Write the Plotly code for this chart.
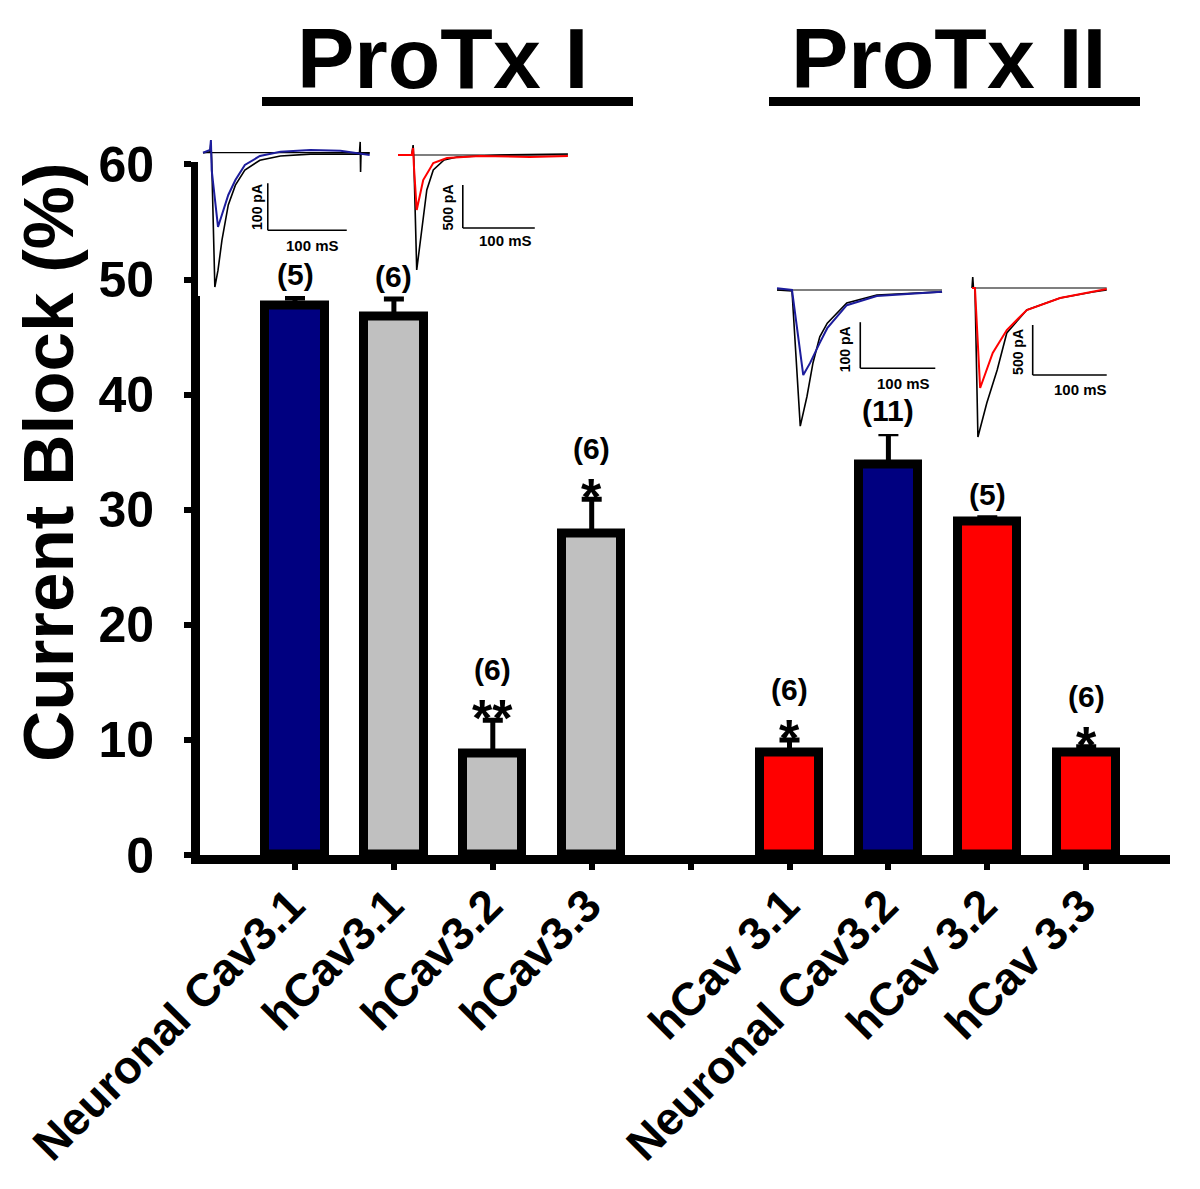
import plotly.graph_objects as go

W, H = 1192, 1181          # figure size (page body adds an 8 px margin)
OFF = 8
FONT = "Liberation Sans, Arial, sans-serif"

# ---------------- main bar chart data ----------------
categories = ["Neuronal Cav3.1", "hCav3.1", "hCav3.2", "hCav3.3", " ",
              "hCav 3.1", "Neuronal Cav3.2", "hCav 3.2", "hCav 3.3"]
block_pct = [47.7, 46.8, 8.8, 27.9, None, 8.9, 33.9, 29.0, 8.9]
err_top = [48.4, 48.3, 11.7, 30.9, None, 10.0, 36.6, 29.3, 9.4]
n_labels = ["(5)", "(6)", "(6)", "(6)", "", "(6)", "(11)", "(5)", "(6)"]
sig_labels = ["", "", "**", "*", "", "*", "", "", "*"]
bar_colors = ["#000080", "#C0C0C0", "#C0C0C0", "#C0C0C0", "rgba(0,0,0,0)",
              "#FF0000", "#000080", "#FF0000", "#FF0000"]
y_ticks = [0, 10, 20, 30, 40, 50, 60]
group_titles = ["ProTx I", "ProTx II"]

# ---------------- inset current traces (time ms, current pA) ----------------
# Inset 1: ProTx I on neuronal Cav3.1 (control black, toxin blue)
i1_ctrl_t = [0, 9, 10, 11, 15, 19, 24, 32, 41, 53, 72, 98, 136, 198, 199, 199.5, 200, 211]
i1_ctrl_i = [0, 2, 21, -16, -286, -250, -186, -111, -69, -37, -16, -7, -3, -3, 23, -41, -3, -1]
i1_tox_t = [0, 9, 10, 11, 19, 24, 32, 41, 53, 72, 98, 136, 174, 211]
i1_tox_i = [0, 6, 27, -37, -158, -132, -90, -58, -26, -7, 2, 6, 4, -5]
# Inset 2: ProTx I on hCav3.1 (control black, toxin red)
i2_ctrl_t = [0, 19, 21, 22, 26, 33, 40, 49, 64, 82, 142, 236]
i2_ctrl_i = [0, 0, 116, -58, -1337, -872, -407, -174, -58, -23, 0, 12]
i2_tox_t = [0, 19, 21, 22, 26, 35, 49, 68, 114, 183, 236]
i2_tox_i = [0, 0, 81, -116, -640, -291, -93, -35, -12, -23, -12]
# Inset 3: ProTx II on neuronal Cav3.2 (control black, toxin blue)
i3_ctrl_t = [0, 20, 31, 40, 48, 57, 67, 93, 133, 220]
i3_ctrl_i = [0, -2, -296, -231, -158, -102, -72, -28, -11, -4]
i3_tox_t = [0, 20, 35, 44, 57, 67, 93, 133, 220]
i3_tox_i = [4, 0, -185, -159, -115, -83, -33, -13, -4]
# Inset 4: ProTx II on hCav3.2 (control black, toxin red)
i4_ctrl_t = [0, 1, 2, 4, 8, 20, 34, 47, 74, 119, 163, 182]
i4_ctrl_i = [0, 110, 0, 0, -1490, -1150, -820, -450, -220, -100, -40, -20]
i4_tox_t = [0, 4, 11, 28, 47, 74, 119, 163, 182]
i4_tox_i = [0, 0, -1000, -650, -420, -220, -100, -40, -10]

scale_ms = [100, 100, 100, 100]
scale_pA = [100, 500, 100, 500]

# ---------------- layout helpers (page pixel -> paper fraction) ----------------
def px_x(p):
    return (p - OFF) / W

def px_y(p):
    return 1 - (p - OFF) / H

fig = go.Figure()

# bars
fig.add_trace(go.Bar(
    x=categories, y=block_pct, width=0.6,
    marker=dict(color=bar_colors, line=dict(color="black", width=9)),
    error_y=dict(type="data", symmetric=False,
                 array=[(e - v) if v is not None else None for e, v in zip(err_top, block_pct)],
                 arrayminus=[0] * len(categories),
                 color="black", thickness=5, width=10),
    showlegend=False, xaxis="x", yaxis="y",
))

# main axes geometry
y0_px, unit_px = 855.0, 11.51
ytop_val = 60.25
x_first_px, step_px = 295.0, 98.9
xl_px, xr_px = 200.0, 1170.0

annotations = []
for i, cat in enumerate(categories):
    if block_pct[i] is None:
        continue
    has_sig = sig_labels[i] != ""
    annotations.append(dict(x=cat, y=err_top[i] + (4.4 if has_sig else 2.0), xref="x", yref="y",
                            text=n_labels[i], showarrow=False, yanchor="middle",
                            font=dict(family=FONT, size=30, color="black", weight="bold")))
    if has_sig:
        annotations.append(dict(x=cat, y=err_top[i] + 0.2, xref="x", yref="y",
                                text=sig_labels[i], showarrow=False, yanchor="middle",
                                font=dict(family=FONT, size=52, color="black", weight="bold")))

# group titles + underlines
title_centers = [443, 948]
underlines = [(262, 633), (769, 1140)]
shapes = []
for t, cx, (u0, u1) in zip(group_titles, title_centers, underlines):
    annotations.append(dict(x=px_x(cx), y=1.0, xref="paper", yref="paper", text=t,
                            showarrow=False, xanchor="center", yanchor="top",
                            height=84, valign="top",
                            font=dict(family=FONT, size=86, color="black", weight="bold")))
    shapes.append(dict(type="rect", xref="paper", yref="paper", x0=px_x(u0), x1=px_x(u1),
                       y0=px_y(106), y1=px_y(97), fillcolor="black", line=dict(width=0)))

# y axis title
annotations.append(dict(x=px_x(48), y=px_y(462), xref="paper", yref="paper",
                        text="Current Block (%)", textangle=-90, showarrow=False,
                        xanchor="center", yanchor="middle",
                        font=dict(family=FONT, size=71, color="black", weight="bold")))

# ---------------- insets ----------------
# pixel calibration: (t0_px, base_px, ms_per_px, pA_per_px, box x0, x1, ytop, ybot)
inset_cal = [
    (203, 152.7, 1.266, 2.128, 198, 376, 134, 296),
    (398, 155.0, 1.389, 11.63, 395, 572, 140, 276),
    (777, 290.0, 1.333, 2.174, 772, 948, 280, 434),
    (972, 288.0, 1.351, 10.0, 966, 1112, 272, 442),
]
inset_traces = [
    (i1_ctrl_t, i1_ctrl_i, i1_tox_t, i1_tox_i, "#1C1C9C"),
    (i2_ctrl_t, i2_ctrl_i, i2_tox_t, i2_tox_i, "#FF0000"),
    (i3_ctrl_t, i3_ctrl_i, i3_tox_t, i3_tox_i, "#1C1C9C"),
    (i4_ctrl_t, i4_ctrl_i, i4_tox_t, i4_tox_i, "#FF0000"),
]
# scale bar corner (ms, pA) and label positions
scale_corner = [(82, -165), (90, -849), (111, -170), (82, -870)]
pa_label_pos = [(68, -116), (70, -605), (90, -130), (62, -640)]
ms_label_pos = [(139, -198), (149, -1000), (168, -204), (146, -1010)]

layout_axes = {}
for k, (cal, tr) in enumerate(zip(inset_cal, inset_traces)):
    n = k + 2
    t0, base, mpp, ppp, bx0, bx1, byt, byb = cal
    xr = [(bx0 - t0) * mpp, (bx1 - t0) * mpp]
    yr = [-(byb - base) * ppp, (base - byt) * ppp]
    layout_axes[f"xaxis{n}"] = dict(domain=[px_x(bx0), px_x(bx1)], range=xr, visible=False,
                                    anchor=f"y{n}", fixedrange=True, automargin=False)
    layout_axes[f"yaxis{n}"] = dict(domain=[px_y(byb), px_y(byt)], range=yr, visible=False,
                                    anchor=f"x{n}", fixedrange=True, automargin=False)
    ct, ci, tt, ti, col = tr
    # baseline
    fig.add_trace(go.Scatter(x=[0, ct[-1]], y=[0, 0], mode="lines",
                             line=dict(color="black", width=1.2), showlegend=False,
                             xaxis=f"x{n}", yaxis=f"y{n}", hoverinfo="skip"))
    fig.add_trace(go.Scatter(x=ct, y=ci, mode="lines", line=dict(color="black", width=1.6),
                             showlegend=False, xaxis=f"x{n}", yaxis=f"y{n}"))
    fig.add_trace(go.Scatter(x=tt, y=ti, mode="lines", line=dict(color=col, width=2),
                             showlegend=False, xaxis=f"x{n}", yaxis=f"y{n}"))
    cx, cy = scale_corner[k]
    shapes.append(dict(type="line", xref=f"x{n}", yref=f"y{n}", x0=cx, x1=cx,
                       y0=cy, y1=cy + scale_pA[k], line=dict(color="black", width=1.6)))
    shapes.append(dict(type="line", xref=f"x{n}", yref=f"y{n}", x0=cx, x1=cx + scale_ms[k],
                       y0=cy, y1=cy, line=dict(color="black", width=1.6)))
    px_, py_ = pa_label_pos[k]
    annotations.append(dict(x=px_, y=py_, xref=f"x{n}", yref=f"y{n}", text=f"{scale_pA[k]} pA",
                            textangle=-90, showarrow=False,
                            font=dict(family=FONT, size=14, color="black", weight="bold")))
    mx, my = ms_label_pos[k]
    annotations.append(dict(x=mx, y=my, xref=f"x{n}", yref=f"y{n}", text=f"{scale_ms[k]} mS",
                            showarrow=False,
                            font=dict(family=FONT, size=15, color="black", weight="bold")))

fig.update_layout(
    width=W, height=H, margin=dict(l=0, r=0, t=0, b=0, autoexpand=False),
    paper_bgcolor="white", plot_bgcolor="white",
    xaxis=dict(domain=[px_x(xl_px), px_x(xr_px)],
               range=[(xl_px - x_first_px) / step_px, (xr_px - x_first_px) / step_px],
               type="category", categoryorder="array", categoryarray=categories,
               showline=True, linecolor="black", linewidth=9,
               ticks="outside", ticklen=6, tickwidth=6, tickcolor="black",
               tickangle=-45, showgrid=False, zeroline=False, automargin=False,
               ticklabelshift=-4, ticklabelstandoff=-10,
               tickfont=dict(family=FONT, size=46, color="black", weight="bold"),
               anchor="y"),
    yaxis=dict(domain=[px_y(y0_px), px_y(y0_px - ytop_val * unit_px)],
               range=[0, ytop_val], tickvals=y_ticks,
               showline=True, linecolor="black", linewidth=9,
               ticks="outside", ticklen=7, tickwidth=6, tickcolor="black",
               showgrid=False, zeroline=False, ticklabelstandoff=20, automargin=False,
               tickfont=dict(family=FONT, size=50, color="black", weight="bold"),
               anchor="x"),
    annotations=annotations, shapes=shapes, bargap=0,
    **layout_axes,
)

fig.write_html("out.html")
